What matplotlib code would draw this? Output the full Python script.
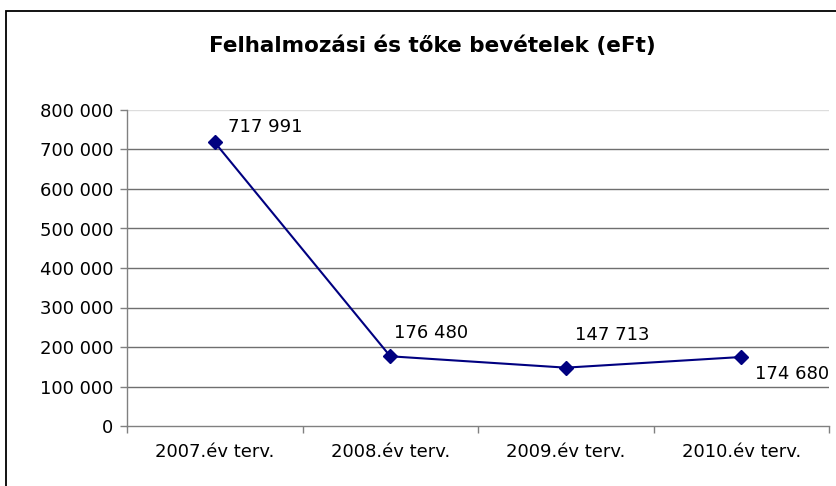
"""Felhalmozási és tőke bevételek (eFt) – line chart with value labels."""

import matplotlib

matplotlib.use("Agg")
import matplotlib.pyplot as plt
from matplotlib.patches import Rectangle
from matplotlib.ticker import FuncFormatter, FixedLocator

plt.rcParams["font.family"] = ["DejaVu Sans"]

TITLE = "Felhalmozási és tőke bevételek (eFt)"
CATEGORIES = ["2007.év terv.", "2008.év terv.", "2009.év terv.", "2010.év terv."]
VALUES = [717991, 176480, 147713, 174680]
Y_TICKS = [0, 100000, 200000, 300000, 400000, 500000, 600000, 700000, 800000]

# label placement relative to each point (pixels): hand-tuned like the original
LABEL_OFFSETS = [(13, 15), (4, 23), (9, 33), (14, -17)]

LINE_COLOR = "#000080"
GRID_COLOR = "#6f6f6f"
AXIS_COLOR = "#808080"


def _thousands(v, _pos):
    return f"{int(v):,}".replace(",", " ")


W, H = 836, 486
fig = plt.figure(figsize=(W / 100, H / 100), dpi=100)
fig.patch.set_facecolor("white")

# chart frame (runs off the right and bottom edges in the original)
top = 1 - 11 / H
fig.patches.append(
    Rectangle((6 / W, -0.2), 1.2, top + 0.2, transform=fig.transFigure,
              fill=False, edgecolor="black", lw=1.3, zorder=0)
)

ax = fig.add_axes([127 / W, 1 - 426 / H, (829 - 127) / W, (426 - 110) / H])

xs = [i + 0.5 for i in range(len(VALUES))]
ax.plot(xs, VALUES, color=LINE_COLOR, lw=1.5, marker="D", ms=7.5,
        markerfacecolor=LINE_COLOR, markeredgecolor=LINE_COLOR, zorder=4, clip_on=False)

for x, v, (dx, dy) in zip(xs, VALUES, LABEL_OFFSETS):
    ax.annotate(_thousands(v, None), (x, v), xytext=(dx, dy), textcoords="offset pixels",
                ha="left", va="center", fontsize=13, color="black", zorder=5,
                annotation_clip=False)

ax.set_xlim(0, len(CATEGORIES))
ax.set_ylim(0, 800000)

ax.yaxis.set_major_locator(FixedLocator(Y_TICKS))
ax.yaxis.set_major_formatter(FuncFormatter(_thousands))
for y in Y_TICKS[1:]:
    ax.axhline(y, color="#dddddd" if y == 800000 else GRID_COLOR, lw=1.0, zorder=1)

ax.set_xticks(range(len(CATEGORIES) + 1))
ax.set_xticklabels([])
ax.set_xticks(xs, minor=True)
ax.set_xticklabels(CATEGORIES, minor=True)
ax.tick_params(axis="x", which="major", direction="out", length=5, width=1, color=AXIS_COLOR)
ax.tick_params(axis="x", which="minor", length=0, pad=12, labelsize=13)
ax.tick_params(axis="y", direction="out", length=5, width=1, color=AXIS_COLOR,
               labelsize=13, pad=5)

for side in ("top", "right"):
    ax.spines[side].set_visible(False)
for side in ("left", "bottom"):
    ax.spines[side].set_color(AXIS_COLOR)
    ax.spines[side].set_linewidth(1.0)

fig.text(0.517, 1 - 46 / H, TITLE, ha="center", va="center", fontsize=15.5,
         fontweight="bold")

fig.savefig("out.png", dpi=100)
